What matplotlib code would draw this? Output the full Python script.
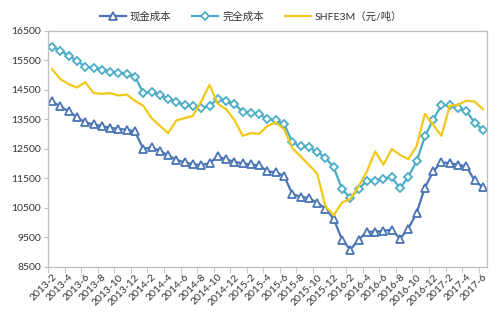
import matplotlib
matplotlib.use('Agg')
import matplotlib.pyplot as plt
import numpy as np

plt.rcParams['font.family'] = ['Lato', 'Noto Sans CJK SC', 'DejaVu Sans']
plt.rcParams['text.color'] = '#333333'
plt.rcParams['xtick.labelcolor'] = '#333333'
plt.rcParams['ytick.labelcolor'] = '#333333'

# months 2013-2 .. 2017-6
months = []
for y in range(2013, 2018):
    for m in range(1, 13):
        if (y == 2013 and m < 2) or (y == 2017 and m > 6):
            continue
        months.append('%d-%d' % (y, m))

cash_cost = [14100, 13931, 13762, 13570, 13390, 13323, 13266, 13210, 13176, 13142,
             13086, 12500, 12545, 12430, 12275, 12128, 12038, 11982, 11948, 12015,
             12241, 12139, 12061, 12004, 11970, 11937, 11740, 11700, 11587, 10968,
             10877, 10832, 10675, 10472, 10123, 9424, 9086, 9424, 9694, 9694,
             9728, 9762, 9458, 9796, 10325, 11182, 11734, 12038, 12015, 11959,
             11903, 11430, 11193]

full_cost = [15959, 15813, 15655, 15463, 15283, 15227, 15170, 15114, 15080, 15046,
             14945, 14393, 14427, 14320, 14190, 14066, 13987, 13931, 13875, 13954,
             14190, 14100, 14021, 13751, 13706, 13672, 13503, 13458, 13345, 12725,
             12579, 12556, 12387, 12196, 11869, 11137, 10832, 11137, 11418, 11425,
             11486, 11542, 11159, 11554, 12072, 12917, 13480, 13976, 13976, 13863,
             13785, 13379, 13142]

shfe3m = [15193, 14855, 14686, 14573, 14754, 14382, 14359, 14382, 14303, 14337,
          14123, 13954, 13537, 13277, 13030, 13458, 13537, 13616, 14100, 14663,
          14021, 13841, 13480, 12939, 13030, 13007, 13270, 13390, 13165, 12523,
          12241, 11959, 11655, 10550, 10250, 10686, 10799, 11227, 11734, 12410,
          11959, 12489, 12297, 12151, 12579, 13683, 13311, 12939, 13954, 13987,
          14123, 14100, 13841]

x = np.arange(len(months))

fig = plt.figure(figsize=(5.02, 3.23), dpi=100)
ax = fig.add_axes([0.0956, 0.1734, 0.8745, 0.732])

l1, = ax.plot(x, cash_cost, color='#4a74b4', lw=1.6, marker='^', ms=5.3,
              mfc='white', mec='#4a74b4', mew=1.3, label='现金成本')
l2, = ax.plot(x, full_cost, color='#4bacc6', lw=1.6, marker='D', ms=4.0,
              mfc='white', mec='#4bacc6', mew=1.3, label='完全成本')
l3, = ax.plot(x, shfe3m, color='#f2c81a', lw=1.6, label='SHFE3M（元/吨）')

ax.set_xlim(-0.5, len(months) - 0.5)
ax.set_ylim(8500, 16500)
ax.set_yticks(np.arange(8500, 16501, 1000))
ax.tick_params(axis='y', labelsize=7.5, length=3, color='#bfbfbf', pad=2)

ax.set_xticks(x[::2])
ax.set_xticklabels(months[::2], rotation=45, ha='right', rotation_mode='anchor',
                   fontsize=7.5)
ax.set_xticks(np.arange(-0.5, len(months), 2), minor=True)
ax.tick_params(axis='x', which='major', length=0, pad=4)
ax.tick_params(axis='x', which='minor', length=4, color='#bfbfbf')

for s in ax.spines.values():
    s.set_color('#bfbfbf')
    s.set_linewidth(0.9)

fig.legend(handles=[l1, l2, l3], loc='center', bbox_to_anchor=(0.5, 0.948),
           ncol=3, frameon=False, fontsize=7.5, handlelength=2.5,
           columnspacing=2.0, handletextpad=0.4)

fig.savefig('out.png', dpi=100)
